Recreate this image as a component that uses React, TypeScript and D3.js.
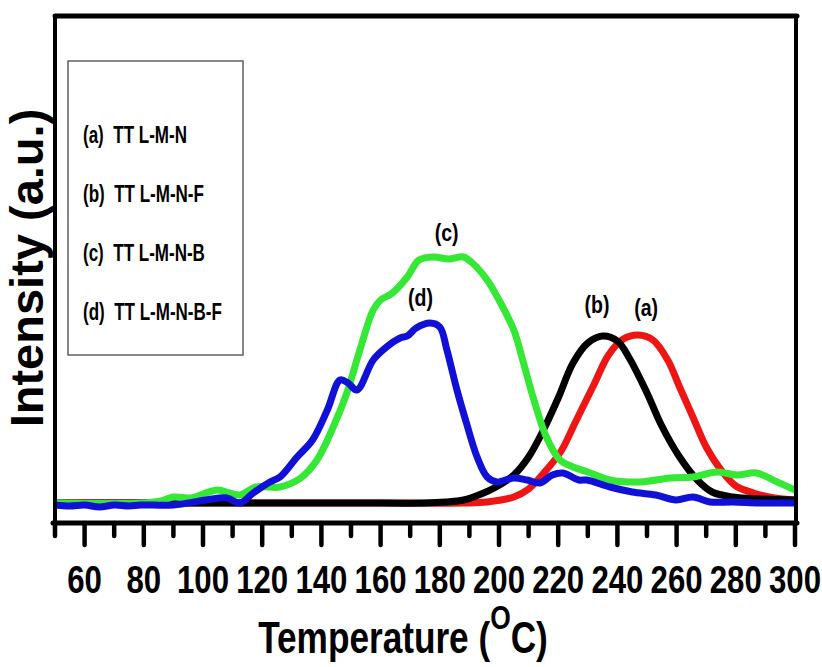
import React from "react";
import * as d3 from "d3";

// ---- data ----
const TICKS_MAJOR = [60, 80, 100, 120, 140, 160, 180, 200, 220, 240, 260, 280, 300];
const TICKS_MINOR = [50, 70, 90, 110, 130, 150, 170, 190, 210, 230, 250, 270, 290];

const tempA = [50, 150, 188, 196, 205, 210, 216, 221, 226, 232, 237, 242, 247, 252, 257, 261, 265.5, 270, 275, 280, 286, 293, 300];
const intA = [0, 0, 0, 1, 6, 14, 33, 52, 82, 118, 148, 164, 168, 163, 143, 116, 86, 56, 33, 17, 10, 5, 3];

const tempB = [50, 100, 150, 175, 182, 188, 194, 199, 205, 210, 215, 220, 225, 230, 235, 240, 244, 250, 255, 261, 267, 272, 279, 288, 300];
const intB = [0, 0, 0, 0, 1, 3, 9, 16, 28, 46, 73, 105, 140, 160, 167, 162, 145, 110, 77, 46, 23, 11, 6, 4, 3];

const tempC = [50, 80, 86, 90, 96, 100, 105, 109, 112.5, 118, 126, 133, 138.5, 144, 148.6, 153, 157.5, 160, 164, 169, 173, 178, 183, 188, 191, 196, 200, 205, 208, 211.5, 216, 220.6, 225, 230, 237.5, 247.6, 257.8, 265.5, 273.6, 280.4, 287, 294, 300];
const intC = [0, 0, 2, 6, 5, 9, 13, 10, 8, 16, 16, 25, 43, 76, 110, 153, 193, 203, 210, 226, 243, 246, 244, 246, 240, 223, 203, 173, 143, 106, 66, 43, 36, 31, 23, 21, 25, 26, 31, 28, 30, 21, 13];

const tempD = [50, 55, 60, 65, 70, 75, 79, 90, 101, 108, 112.5, 117, 122.6, 126, 131.8, 137, 142, 146.3, 149, 152, 157.5, 162, 166.6, 169, 172, 176.7, 180, 182.4, 185.8, 189, 192.6, 196, 199.3, 204.8, 209.5, 213.8, 218, 221.6, 227, 229.7, 237.5, 245, 253, 259.8, 265.5, 271.3, 279, 288, 300];
const intD = [-2, -3, -2, -4, -2, -3, -2, -2, 3, 5, 0, 10, 21, 26, 46, 63, 93, 123, 120, 113, 143, 156, 165, 167, 175, 180, 176, 153, 113, 80, 46, 26, 21, 25, 23, 20, 28, 30, 23, 23, 16, 11, 8, 3, 6, 1, 1, 0, 0];

const LEGEND_LABELS = ["(a)  TT L-M-N", "(b)  TT L-M-N-F", "(c)  TT L-M-N-B", "(d)  TT L-M-N-B-F"];
const PEAK_LABELS = ["(a)", "(b)", "(c)", "(d)"];
const PEAK_LABEL_T = [249.7, 233.1, 182.3, 173.5];
const PEAK_LABEL_I = [187, 190, 262, 197];

const X_TITLE = "Temperature (";
const X_TITLE_SUP = "O";
const X_TITLE_END = "C)";
const Y_TITLE = "Intensity (a.u.)";

const COLORS = ["#ee1515", "#000000", "#35e835", "#1010d6"];

// ---- layout ----
const W = 822;
const H = 667;
const X0 = 55;
const X1 = 795;
const BASE = 503;
const TOP = 17;
const AXIS_Y = 523;
const FONT = "'Liberation Sans', Arial, Helvetica, sans-serif";

export default function App() {
  const x = d3.scaleLinear().domain([50, 300]).range([X0, X1]);
  const y = d3.scaleLinear().domain([0, 486]).range([BASE, TOP]);

  const line = d3
    .line<[number, number]>()
    .x((d) => x(d[0]))
    .y((d) => y(d[1]))
    .curve(d3.curveCatmullRom.alpha(0.5));

  // drawing order: (a) red, (b) black, (c) green, (d) blue
  const series: [number[], number[], string][] = [
    [tempA, intA, COLORS[0]],
    [tempB, intB, COLORS[1]],
    [tempC, intC, COLORS[2]],
    [tempD, intD, COLORS[3]],
  ];

  const nText = (
    key: string,
    tx: number,
    ty: number,
    size: number,
    k: number,
    anchor: string,
    content: React.ReactNode,
    weight: string = "bold"
  ) => (
    <text
      key={key}
      transform={`translate(${tx},${ty}) scale(${k},1)`}
      fontSize={size}
      fontWeight={weight}
      textAnchor={anchor}
      fontFamily={FONT}
      fill="#000"
      style={{ whiteSpace: "pre" }}
    >
      {content}
    </text>
  );

  return (
    <svg
      width={W}
      height={H}
      style={{ position: "absolute", left: 0, top: 0, background: "#fff" }}
    >
      <defs>
        <clipPath id="plotClip">
          <rect x={X0} y={TOP} width={X1 - X0} height={AXIS_Y - TOP} />
        </clipPath>
      </defs>
      <rect x={0} y={0} width={W} height={H} fill="#fff" />

      {/* legend box */}
      <rect x={68} y={61} width={175} height={294} fill="none" stroke="#555" strokeWidth={1.4} />
      {LEGEND_LABELS.map((t, i) => nText("lg" + i, 83, 143 + i * 59, 23, 0.74, "start", t))}

      {/* curves */}
      <g clipPath="url(#plotClip)">
        {series.map(([ts, vs, c], i) => (
          <path
            key={"s" + i}
            d={line(ts.map((t, j) => [t, vs[j]] as [number, number])) || ""}
            fill="none"
            stroke={c}
            strokeWidth={7}
            strokeLinejoin="round"
            strokeLinecap="round"
          />
        ))}
      </g>

      {/* peak labels */}
      {PEAK_LABELS.map((t, i) =>
        nText("pk" + i, x(PEAK_LABEL_T[i]), y(PEAK_LABEL_I[i]), 23, 0.85, "middle", t)
      )}

      {/* frame */}
      <line x1={X0} x2={X1 + 2} y1={TOP - 1} y2={TOP - 1} stroke="#000" strokeWidth={5} strokeLinecap="round" />
      <line x1={X0} x2={X0} y1={TOP - 2} y2={AXIS_Y} stroke="#000" strokeWidth={4} />
      <line x1={X1 + 1} x2={X1 + 1} y1={TOP - 2} y2={AXIS_Y} stroke="#000" strokeWidth={4} />
      <line x1={X0 - 2} x2={X1 + 2} y1={AXIS_Y} y2={AXIS_Y} stroke="#000" strokeWidth={5} strokeLinecap="round" />

      {/* ticks */}
      {TICKS_MAJOR.map((t) => (
        <line key={"M" + t} x1={x(t)} x2={x(t)} y1={AXIS_Y} y2={AXIS_Y + 22} stroke="#000" strokeWidth={4.5} strokeLinecap="round" />
      ))}
      {TICKS_MINOR.map((t) => (
        <line key={"m" + t} x1={x(t)} x2={x(t)} y1={AXIS_Y} y2={AXIS_Y + 13} stroke="#000" strokeWidth={4.5} strokeLinecap="round" />
      ))}
      {TICKS_MAJOR.map((t) => nText("tl" + t, x(t), 593, 39, 0.8, "middle", String(t)))}

      {/* axis titles */}
      <text
        transform={`translate(403,653) scale(0.8,1)`}
        fontSize={44}
        fontWeight="bold"
        textAnchor="middle"
        fontFamily={FONT}
      >
        {X_TITLE}
        <tspan fontSize={33} dy={-24}>{X_TITLE_SUP}</tspan>
        <tspan dy={24}>{X_TITLE_END}</tspan>
      </text>
      <text
        transform={`translate(43,268) rotate(-90)`}
        fontSize={47}
        fontWeight="bold"
        textAnchor="middle"
        fontFamily={FONT}
      >
        {Y_TITLE}
      </text>
    </svg>
  );
}
